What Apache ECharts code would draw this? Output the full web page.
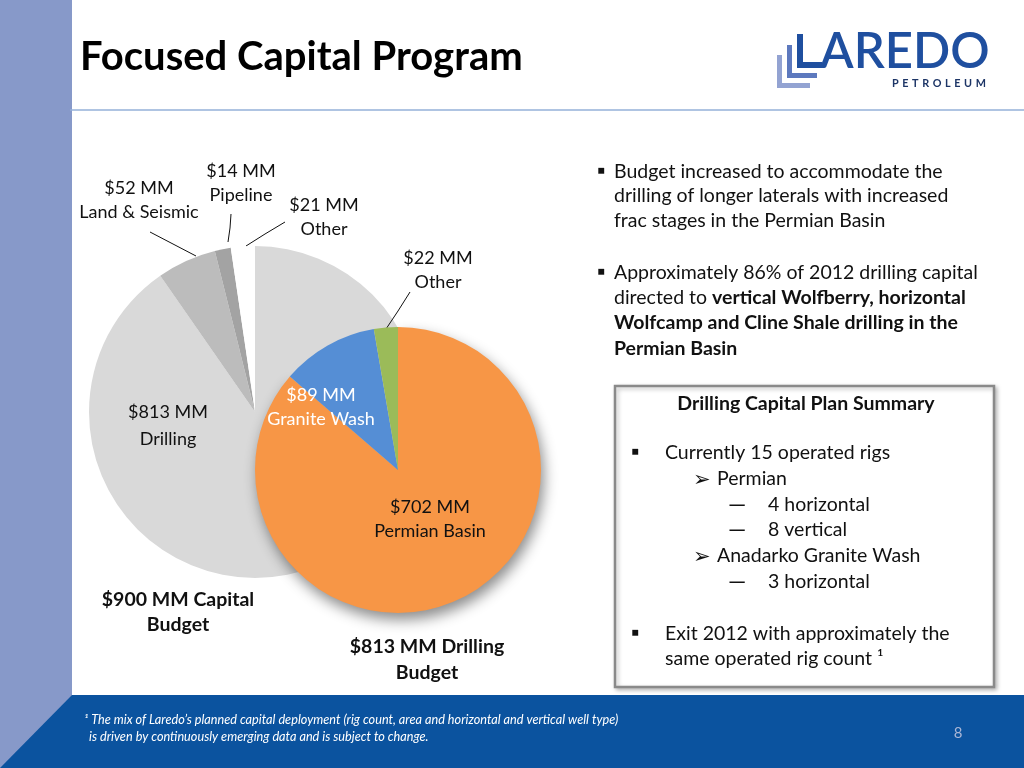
<!DOCTYPE html>
<html>
<head>
<meta charset="utf-8">
<script src="https://cdn.jsdelivr.net/npm/echarts@6/dist/echarts.min.js"></script>
<style>
html,body{margin:0;padding:0;background:#fff;}
#chart{width:1024px;height:768px;}
</style>
</head>
<body>
<div id="chart"></div>
<script>
// ---- data ----
const capitalNames = ['Drilling', 'Land & Seismic', 'Pipeline', 'Other'];
const capitalValues = [813, 52, 14, 21];
const drillingNames = ['Permian Basin', 'Granite Wash', 'Other'];
const drillingValues = [702, 89, 22];
const capitalTitle = ['$900 MM Capital', 'Budget'];
const drillingTitle = ['$813 MM Drilling', 'Budget'];

// ---- styles / layout ----
const FONT = 'Lato, "Open Sans", sans-serif';
const capitalColors = ['#d9d9d9', '#bcbcbc', '#a3a3a3', '#ffffff'];
const drillingColors = ['#f79646', '#558ed5', '#9bbb59'];
const BODY = 19.5;

// label placement (layout only)
const capLabelPos = [
  {x: 168, y: 426, line: null},
  {x: 139, y: 200, line: [[150, 232], [173, 244], [196, 256]]},
  {x: 241, y: 183, line: [[231, 214], [230, 228], [228, 242]]},
  {x: 324, y: 217, line: [[285, 222], [265, 234], [246, 246]]}
];
const drillLabelPos = [
  {x: 430, y: 519, line: null},
  {x: 321, y: 407, line: null},
  {x: 438, y: 270, line: [[410, 292], [398, 311], [386, 329]]}
];

function fmt(p) { return '$' + p.value + ' MM\n' + p.name; }

const capitalData = capitalValues.map((v, i) => ({
  value: v, name: capitalNames[i],
  itemStyle: {color: capitalColors[i]},
  label: {position: i === 0 ? 'inside' : 'outside', lineHeight: i === 0 ? 27 : 24},
  labelLine: {show: i !== 0}
}));
const drillingData = drillingValues.map((v, i) => ({
  value: v, name: drillingNames[i],
  itemStyle: i === 0 ? {color: drillingColors[i], shadowBlur: 14, shadowColor: 'rgba(0,0,0,0.45)', shadowOffsetX: 3, shadowOffsetY: 7}
                     : {color: drillingColors[i]},
  label: {position: i === 2 ? 'outside' : 'inside', color: i === 1 ? '#ffffff' : '#111111'},
  labelLine: {show: i === 2}
}));

function layoutFrom(table) {
  return function (params) {
    const p = table[params.dataIndex];
    const o = {x: p.x, y: p.y, align: 'center', verticalAlign: 'middle', moveOverlap: false, hideOverlap: false};
    if (p.line) o.labelLinePoints = p.line;
    return o;
  };
}

function txt(x, y, text, opt) {
  opt = opt || {};
  return {
    type: 'text', x: x, y: y, z: 10,
    style: Object.assign({
      text: text,
      font: (opt.weight || 'normal') + ' ' + (opt.size || BODY) + 'px ' + FONT,
      fill: opt.fill || '#111111',
      align: opt.align || 'left',
      verticalAlign: 'middle'
    }, opt.extra || {})
  };
}

const rich = {
  n: {font: 'normal ' + BODY + 'px ' + FONT, fill: '#111111'},
  b: {font: 'bold ' + BODY + 'px ' + FONT, fill: '#111111'}
};

const SP = '\u2004';
const graphics = [
  // left band
  {type: 'rect', shape: {x: 0, y: 0, width: 72, height: 768}, style: {fill: '#8799c9'}, z: 0},
  // footer band
  {type: 'polygon', shape: {points: [[72, 695], [1024, 695], [1024, 768], [0, 768]]}, style: {fill: '#0b539f'}, z: 1},
  // title rule
  {type: 'line', shape: {x1: 70, y1: 110, x2: 1024, y2: 110}, style: {stroke: '#95b0d8', lineWidth: 1.5}, z: 1},
  // title
  txt(80, 57, 'Focused Capital Program', {weight: 'bold', size: 40, fill: '#000000'}),
  // logo L marks
  {type: 'polygon', shape: {points: [[777, 55], [782, 55], [782, 83], [810, 83], [810, 88], [777, 88]]}, style: {fill: '#93a3d2'}, z: 2},
  {type: 'polygon', shape: {points: [[787, 45], [792, 45], [792, 73], [817, 73], [817, 78], [787, 78]]}, style: {fill: '#5d79be'}, z: 2},
  {type: 'polygon', shape: {points: [[797, 34], [803, 34], [803, 62], [822, 62], [822, 68], [797, 68]]}, style: {fill: '#1f4f9f'}, z: 2},
  txt(820, 52, 'AREDO', {weight: '600', size: 49, fill: '#1f4f9f'}),
  txt(892, 84, ['P','E','T','R','O','L','E','U','M'].join(SP), {weight: 'bold', size: 10.8, fill: '#1d3566'}),

  // pie captions
  txt(178, 600, capitalTitle[0], {weight: 'bold', align: 'center'}),
  txt(178, 625, capitalTitle[1], {weight: 'bold', align: 'center'}),
  txt(427, 647, drillingTitle[0], {weight: 'bold', align: 'center'}),
  txt(427, 673, drillingTitle[1], {weight: 'bold', align: 'center'}),

  // right bullets
  txt(597, 171, '\u25AA', {size: 22}),
  txt(614, 172, 'Budget increased to accommodate the'),
  txt(614, 196, 'drilling of longer laterals with increased'),
  txt(614, 221, 'frac stages in the Permian Basin'),
  txt(597, 272, '\u25AA', {size: 22}),
  txt(614, 273, 'Approximately 86% of 2012 drilling capital'),
  {type: 'text', x: 614, y: 298, z: 10, style: {text: '{n|directed to }{b|vertical Wolfberry, horizontal}', rich: rich, verticalAlign: 'middle', font: BODY + 'px ' + FONT}},
  txt(614, 323, 'Wolfcamp and Cline Shale drilling in the', {weight: 'bold'}),
  txt(614, 349, 'Permian Basin', {weight: 'bold'}),

  // summary box
  {type: 'rect', shape: {x: 615, y: 386, width: 379, height: 301}, style: {fill: '#ffffff', stroke: '#8a8a8a', lineWidth: 2.5, shadowBlur: 4, shadowColor: 'rgba(0,0,0,0.25)', shadowOffsetX: 2, shadowOffsetY: 2}, z: 2},
  txt(806, 404, 'Drilling Capital Plan Summary', {weight: 'bold', align: 'center'}),
  txt(631, 452, '\u25AA', {size: 22}),
  txt(665, 453, 'Currently 15 operated rigs'),
  txt(693, 479, '\u27A2', {size: 21}),
  txt(717, 479, 'Permian'),
  txt(728, 505, '\u2014', {size: 23}),
  txt(768, 505, '4 horizontal'),
  txt(728, 530, '\u2014', {size: 23}),
  txt(768, 530, '8 vertical'),
  txt(693, 556, '\u27A2', {size: 21}),
  txt(717, 556, 'Anadarko Granite Wash'),
  txt(728, 582, '\u2014', {size: 23}),
  txt(768, 582, '3 horizontal'),
  txt(631, 633, '\u25AA', {size: 22}),
  txt(665, 634, 'Exit 2012 with approximately the'),
  txt(665, 659, 'same operated rig count \u00B9'),

  // footer
  txt(84, 720, '\u00B9 The mix of Laredo\u2019s planned capital deployment (rig count, area and horizontal and vertical well type)', {size: 12.7, fill: '#ffffff', weight: 'italic'}),
  txt(89, 737, 'is driven by continuously emerging data and is subject to change.', {size: 12.7, fill: '#ffffff', weight: 'italic'}),
  txt(958, 733, '8', {size: 15, fill: '#a9b6d6', align: 'center'})
];

const chart = echarts.init(document.getElementById('chart'));
chart.setOption({
  animation: false,
  backgroundColor: '#ffffff',
  graphic: {elements: graphics},
  series: [
    {
      type: 'pie', z: 2,
      center: [255, 412], radius: [0, 166],
      startAngle: 90, clockwise: true, avoidLabelOverlap: false,
      silent: true,
      itemStyle: {borderWidth: 0},
      label: {show: true, formatter: fmt, fontFamily: FONT, fontSize: 18, color: '#111111', lineHeight: 24, align: 'center'},
      labelLine: {lineStyle: {color: '#111111', width: 1}},
      labelLayout: layoutFrom(capLabelPos),
      data: capitalData
    },
    {
      type: 'pie', z: 3,
      center: [398, 470], radius: [0, 143],
      startAngle: 90, clockwise: true, avoidLabelOverlap: false,
      silent: true,
      itemStyle: {borderWidth: 0},
      label: {show: true, formatter: fmt, fontFamily: FONT, fontSize: 18, color: '#111111', lineHeight: 24, align: 'center'},
      labelLine: {lineStyle: {color: '#111111', width: 1}},
      labelLayout: layoutFrom(drillLabelPos),
      data: drillingData
    }
  ]
});
</script>
</body>
</html>
